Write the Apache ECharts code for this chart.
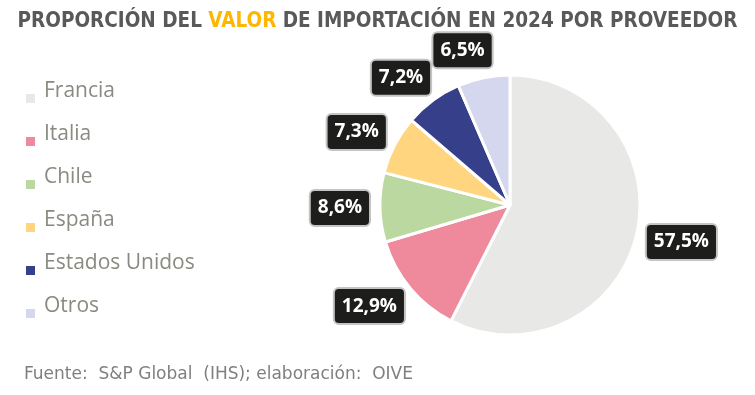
<!DOCTYPE html>
<html><head><meta charset="utf-8">
<script src="https://cdn.jsdelivr.net/npm/echarts@6/dist/echarts.min.js"></script>
<style>html,body{margin:0;padding:0;background:#fff}#c{width:755px;height:395px}</style>
</head><body><div id="c"></div>
<script>
const categories = ['Francia','Italia','Chile','España','Estados Unidos','Otros'];
const shares = [57.5, 12.9, 8.6, 7.3, 7.2, 6.5];
const colors = ['#e8e8e6','#ee8a9c','#bbd8a0','#ffd580','#363f8a','#d5d7ee'];
const CX = 510, CY = 205, R = 130, AR = 139;
const total = shares.reduce((a,b)=>a+b,0);
const mids = [];
{ let acc = 0; shares.forEach(v=>{ mids.push((acc + v/2)/total*2*Math.PI); acc += v; }); }
const f = s => Math.sign(s)*Math.pow(Math.abs(s),0.3);
const chart = echarts.init(document.getElementById('c'));
chart.setOption({
  animation:false,
  title:[{
    text:'{a|PROPORCIÓN DEL }{b|VALOR}{a| DE IMPORTACIÓN EN 2024 POR PROVEEDOR}',
    left:'center', top:6,
    textStyle:{rich:{
      a:{fontFamily:'DejaVu Sans Condensed',fontWeight:'bold',fontSize:20.5,color:'#595959'},
      b:{fontFamily:'DejaVu Sans Condensed',fontWeight:'bold',fontSize:20.5,color:'#ffb600'}
    }}
  },{
    text:'Fuente:  S&P Global  (IHS); elaboración:  OIVE',
    left:19, top:361,
    textStyle:{fontFamily:'DejaVu Sans',fontWeight:'normal',fontSize:17,color:'#7f7f7f'}
  }],
  legend:{
    orient:'vertical', left:19, top:76,
    itemWidth:11, itemHeight:11, itemGap:19,
    icon:'rect',
    data:categories,
    formatter:'{n|{name}}',
    textStyle:{rich:{n:{fontFamily:'Open Sans',fontSize:21,color:'#8a8a80',padding:[0,0,14,3]}}}
  },
  series:[{
    type:'pie',
    center:[CX,CY], radius:R,
    startAngle:90, clockwise:true,
    avoidLabelOverlap:false,
    data:categories.map((n,i)=>({name:n,value:shares[i],itemStyle:{color:colors[i]}})),
    itemStyle:{borderColor:'#fff',borderWidth:3},
    label:{
      show:true, position:'outside',
      formatter:p=>p.value.toFixed(1).replace('.',',')+'%',
      fontFamily:'Open Sans', fontWeight:'bold', fontSize:19, color:'#fff',
      backgroundColor:'#1d1d1b', borderColor:'#c4c4c4', borderWidth:2, borderRadius:4,
      padding:[9,7,6,7]
    },
    labelLine:{show:false,length:14,length2:0},
    labelLayout:function(p){
      const a = mids[p.dataIndex];
      const s = Math.sin(a), c = Math.cos(a);
      const w = p.labelRect.width, h = p.labelRect.height;
      const ax = CX + AR*s, ay = CY - AR*c;
      return {x: ax + f(s)*w/2, y: ay - c*h/2, align:'center', verticalAlign:'middle', hideOverlap:false, moveOverlap:null};
    }
  }]
});
</script></body></html>
